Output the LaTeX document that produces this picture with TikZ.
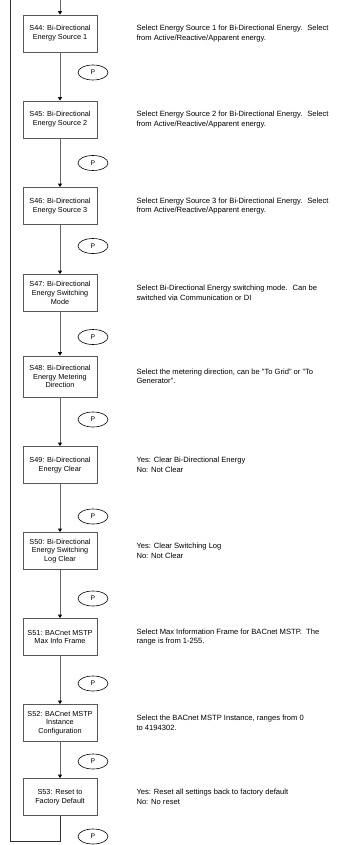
\documentclass[tikz,border=0pt]{standalone}
\usepackage{fontspec}
\setmainfont{Liberation Sans}
\usetikzlibrary{positioning,arrows.meta,shapes.geometric,calc}

\begin{document}
\begin{tikzpicture}[x=1pt,y=-1pt,
  stepbox/.style={draw=black!65, line width=0.8pt, minimum width=74pt, minimum height=37pt,
    inner sep=1pt, align=center, font=\fontsize{7.3}{8.8}\selectfont},
  pkey/.style={draw=black, line width=0.6pt, ellipse, minimum width=30pt, minimum height=15pt,
    inner sep=0pt, font=\fontsize{6.8}{7}\selectfont},
  desc/.style={anchor=west, align=left, font=\fontsize{7.6}{9.5}\selectfont},
  flow/.style={draw=black!60, line width=0.8pt, -{Triangle[width=4pt,length=3.5pt,black]}},
  loopline/.style={draw=black!80, line width=0.8pt}
]
  \useasboundingbox (0,0) rectangle (338,845);

  \node[stepbox] (s44) at (60,33.5) {S44: Bi-Directional\\Energy Source 1};
  \node[stepbox] (s45) at (60,119.5) {S45: Bi-Directional\\Energy Source 2};
  \node[stepbox] (s46) at (60,206) {S46: Bi-Directional\\Energy Source 3};
  \node[stepbox] (s47) at (60,293) {S47: Bi-Directional\\Energy Switching\\Mode};
  \node[stepbox, minimum height=41pt] (s48) at (60,376.5) {S48: Bi-Directional\\Energy Metering\\Direction};
  \node[stepbox] (s49) at (60,465) {S49: Bi-Directional\\Energy Clear};
  \node[stepbox] (s50) at (60,551) {S50: Bi-Directional\\Energy Switching\\Log Clear};
  \node[stepbox] (s51) at (60,637) {S51: BACnet MSTP\\Max Info Frame};
  \node[stepbox] (s52) at (60,723) {S52: BACnet MSTP\\Instance\\Configuration};
  \node[stepbox] (s53) at (60,797) {S53: Reset to\\Factory Default};

  \node[desc] (d44) at (133,33.5) {Select Energy Source 1 for Bi-Directional Energy.~ Select\\from Active/Reactive/Apparent energy.};
  \node[desc] (d45) at (133,119.5) {Select Energy Source 2 for Bi-Directional Energy.~ Select\\from Active/Reactive/Apparent energy.};
  \node[desc] (d46) at (133,206) {Select Energy Source 3 for Bi-Directional Energy.~ Select\\from Active/Reactive/Apparent energy.};
  \node[desc] (d47) at (133,293) {Select Bi-Directional Energy switching mode.~ Can be\\switched via Communication or DI};
  \node[desc] (d48) at (133,376.5) {Select the metering direction, can be "To Grid" or "To\\Generator".};
  \node[desc] (d49) at (133,465) {Yes: Clear Bi-Directional Energy\\No: Not Clear};
  \node[desc] (d50) at (133,551) {Yes: Clear Switching Log\\No: Not Clear};
  \node[desc] (d51) at (133,637) {Select Max Information Frame for BACnet MSTP.~ The\\range is from 1-255.};
  \node[desc] (d52) at (133,723) {Select the BACnet MSTP Instance, ranges from 0\\to 4194302.};
  \node[desc] (d53) at (133,797) {Yes: Reset all settings back to factory default\\No: No reset};

  \node[pkey] (p44) at (93,72.5) {P};
  \node[pkey] (p45) at (93,163) {P};
  \node[pkey] (p46) at (93,246) {P};
  \node[pkey] (p47) at (93,337) {P};
  \node[pkey] (p48) at (93,419.5) {P};
  \node[pkey] (p49) at (93,516.5) {P};
  \node[pkey] (p50) at (93,598.5) {P};
  \node[pkey] (p51) at (93,683.5) {P};
  \node[pkey] (p52) at (93,761.5) {P};
  \node[pkey] (p53) at (93,836.5) {P};

  \foreach \a/\b in {s44/s45, s45/s46, s46/s47, s47/s48, s48/s49, s49/s50, s50/s51, s51/s52, s52/s53}
    \draw[flow] (\a) -- (\b);

  \coordinate (loopbot) at (60,841);
  \coordinate (loopleft) at (10.7,841);
  \coordinate (looptop) at (10.7,0);
  \coordinate (entry) at (60,0);
  \draw[loopline] (s53) -- (loopbot) -- (loopleft) -- (looptop);
  \draw[flow] (entry) -- (s44);
\end{tikzpicture}
\end{document}
